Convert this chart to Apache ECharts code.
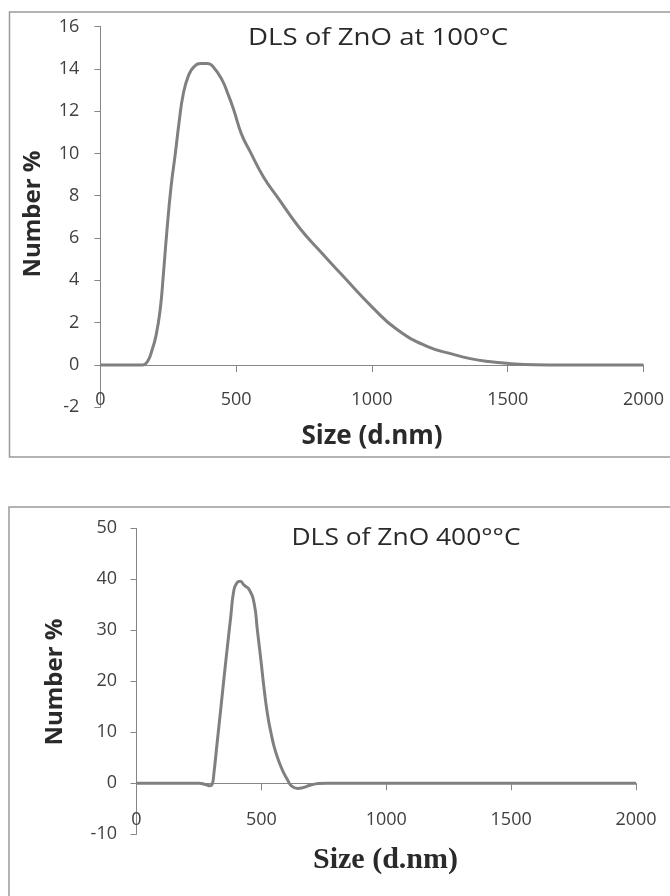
<!DOCTYPE html>
<html>
<head>
<meta charset="utf-8">
<script src="https://cdn.jsdelivr.net/npm/echarts@6/dist/echarts.min.js"></script>
<style>
html,body{margin:0;padding:0;background:#fff;}
#chart{width:670px;height:896px;}
</style>
</head>
<body>
<div id="chart"></div>
<script>
// Chart 1: DLS of ZnO at 100°C
const title100 = 'DLS of ZnO at 100°C';
const sizes100 = [0,100,155,175,190,205,220,232,244,260,276,290,305,325,345,370,395,415,447,470,490,520,551,600,654,732,811,890,1000,1095,1205,1300,1362,1430,1504,1600,1700,2000];
const number100 = [0,0,0,0.2,0.7,1.4,2.6,4.3,6.2,8.4,10,11.5,12.8,13.7,14.1,14.25,14.25,14.1,13.5,12.8,12.1,10.9,10.1,8.9,7.9,6.5,5.35,4.25,2.75,1.65,0.87,0.5,0.3,0.16,0.07,0.01,0,0];

// Chart 2: DLS of ZnO 400°°C
const title400 = 'DLS of ZnO 400°°C';
const sizes400 = [0,250,280,293,303,310,323,337,350,364,377,390,402,415,432,451,471,484,498,511,524,538,551,565,578,592,605,620,645,670,698,730,760,2000];
const number400 = [0,0,-0.3,-0.5,-0.2,2,8,14.4,20.5,26.8,32.5,37.9,39.3,39.6,38.8,38.0,35.3,30,24.2,18.5,13.7,10,7.2,5,3.3,1.8,0.65,-0.5,-1.0,-0.8,-0.33,-0.05,0,0];

const xName = 'Size (d.nm)';
const yName = 'Number %';

const pairs = (xs, ys) => xs.map((x, i) => [x, ys[i]]);

const axisGray = '#868686';
const labelStyle = {fontFamily: 'Open Sans', fontSize: 18, color: '#404040', formatter: v => String(v)};

function xAx(grid, margin) {
  return {
    gridIndex: grid, type: 'value', min: 0, max: 2000, interval: 500,
    axisLine: {show: true, onZero: true, lineStyle: {color: axisGray, width: 1}},
    axisTick: {show: true, length: 7, lineStyle: {color: axisGray}},
    axisLabel: Object.assign({margin: margin}, labelStyle),
    splitLine: {show: false}
  };
}
function yAx(grid, min, max, interval, margin) {
  return {
    gridIndex: grid, type: 'value', min: min, max: max, interval: interval,
    axisLine: {show: true, lineStyle: {color: axisGray, width: 1}},
    axisTick: {show: true, length: 6, lineStyle: {color: axisGray}},
    axisLabel: Object.assign({margin: margin}, labelStyle),
    splitLine: {show: false}
  };
}
function txt(x, y, text, font, rot, sx) {
  return {
    type: 'text', x: x, y: y, rotation: rot || 0, scaleX: sx || 1, z: 10,
    style: {text: text, font: font, fill: '#2a2a2a', textAlign: 'center', textVerticalAlign: 'middle', align: 'center', verticalAlign: 'middle'}
  };
}

const chart = echarts.init(document.getElementById('chart'), null, {renderer: 'canvas'});
chart.setOption({
  animation: false,
  backgroundColor: '#fff',
  grid: [
    {left: 100.4, right: 26.5, top: 26.5, bottom: 488.7},
    {left: 136.5, right: 34, top: 528.3, bottom: 61.7}
  ],
  xAxis: [xAx(0, -16), xAx(1, -23.5)],
  yAxis: [yAx(0, -2, 16, 2, 21), yAx(1, -10, 50, 10, 19.5)],
  series: [
    {type: 'line', xAxisIndex: 0, yAxisIndex: 0, data: pairs(sizes100, number100), smooth: 0.5, showSymbol: false, lineStyle: {color: '#808080', width: 3}},
    {type: 'line', xAxisIndex: 1, yAxisIndex: 1, data: pairs(sizes400, number400), smooth: 0.5, showSymbol: false, lineStyle: {color: '#808080', width: 3}}
  ],
  graphic: [
    {type: 'rect', shape: {x: 9.5, y: 12, width: 700, height: 445}, style: {fill: 'none', stroke: '#9a9a9a', lineWidth: 1.5}, z: 0},
    {type: 'rect', shape: {x: 9, y: 507, width: 700, height: 420}, style: {fill: 'none', stroke: '#9a9a9a', lineWidth: 1.5}, z: 0},
    txt(378, 38, title100, '24px "Open Sans"', 0, 1.15),
    txt(33, 214, yName, 'bold 24px "Open Sans"', Math.PI / 2),
    txt(372, 437, xName, 'bold 26px "Open Sans"'),
    txt(406, 538, title400, '24px "Open Sans"', 0, 1.1),
    txt(55.5, 682, yName, 'bold 24px "Open Sans"', Math.PI / 2),
    txt(385.5, 860, xName, 'bold 30px "Liberation Serif"')
  ]
});
</script>
</body>
</html>
